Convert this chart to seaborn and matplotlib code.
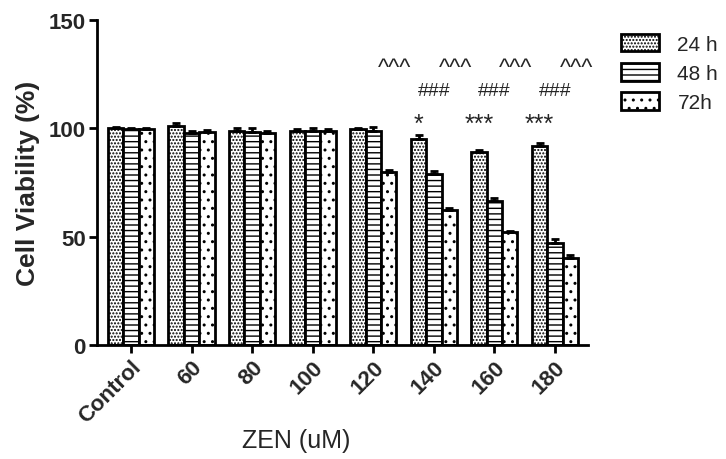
import numpy as np
import pandas as pd
import matplotlib
matplotlib.use('Agg')
import matplotlib.pyplot as plt
import seaborn as sns

doses = ['Control', '60', '80', '100', '120', '140', '160', '180']
times = ['24 h', '48 h', '72h']
v24 = [100, 101, 99, 99, 99.5, 95, 89, 92]
v48 = [99.5, 98, 98.5, 99, 99, 79, 66.5, 47]
v72 = [99.8, 98.5, 98, 99, 80, 62.5, 52, 40]
e24 = [0.8, 1.5, 1.0, 0.8, 0.8, 2.0, 0.8, 1.2]
e48 = [0.8, 0.8, 1.5, 1.0, 1.8, 1.5, 1.2, 2.0]
e72 = [0.6, 0.6, 0.6, 0.6, 1.0, 0.6, 0.6, 1.5]

# significance marks: (dose index, series index, text, y)
stars = [(5, 0, '*', 96.5), (6, 0, '***', 96.5), (7, 0, '***', 96.5)]
hashes = [(5, 1, '###', 113.5), (6, 1, '###', 113.5), (7, 1, '###', 113.5)]
carets = [(4, 2, '^^^', 123), (5, 2, '^^^', 123), (6, 2, '^^^', 123), (7, 2, '^^^', 123)]

df = pd.DataFrame({
    'dose': doses * 3,
    'time': [times[0]] * 8 + [times[1]] * 8 + [times[2]] * 8,
    'viability': v24 + v48 + v72,
})
errs = [e24, e48, e72]

sns.set_style('ticks')
plt.rcParams['font.family'] = ['Liberation Sans', 'DejaVu Sans']
plt.rcParams['hatch.linewidth'] = 1.0

fig = plt.figure(figsize=(7.26, 4.6), dpi=100)
ax = fig.add_axes([0.1336, 0.248, 0.676, 0.706])

sns.barplot(data=df, x='dose', y='viability', hue='time', order=doses,
            hue_order=times, palette=['white'] * 3, saturation=1,
            edgecolor='black', linewidth=2, width=0.76, errorbar=None, ax=ax)

bar_groups = list(ax.containers)
hatches = ['.....', '---', '..']
for cont, h, err in zip(bar_groups, hatches, errs):
    xs = []
    ys = []
    for bar in cont:
        bar.set_hatch(h)
        bar.set_facecolor('white')
        xs.append(bar.get_x() + bar.get_width() / 2)
        ys.append(bar.get_height())
    ax.errorbar(xs, ys, yerr=[np.zeros(len(err)), err], fmt='none',
                ecolor='black', elinewidth=2, capsize=3, capthick=2, zorder=3)

sizes = {'*': 18, '***': 18, '###': 14, '^^^': 17}
shift = {'*': 0, '***': 0, '###': 0, '^^^': 0.1}
for marks in (stars, hashes, carets):
    for i, s, txt, y in marks:
        bar = bar_groups[s][i]
        ax.text(bar.get_x() + bar.get_width() / 2 + shift[txt], y, txt,
                ha='center', va='bottom', fontsize=sizes[txt])

ax.set_xlim(-0.56, 7.54)
ax.set_ylim(0, 150)
ax.set_yticks([0, 50, 100, 150])
ax.set_xticks(range(len(doses)))
ax.set_xticklabels(doses, rotation=45, ha='right', rotation_mode='anchor',
                   fontsize=16, fontweight='bold')
for lab in ax.get_yticklabels():
    lab.set_fontsize(16)
    lab.set_fontweight('bold')
ax.set_ylabel('Cell Viability (%)', fontsize=19, fontweight='bold', labelpad=6)
ax.set_xlabel('ZEN (uM)', fontsize=18, labelpad=2)
ax.xaxis.set_label_coords(0.405, -0.255)
ax.tick_params(width=2, length=6, color='black', pad=2)
for side in ('left', 'bottom'):
    ax.spines[side].set_linewidth(2)
    ax.spines[side].set_color('black')
sns.despine(ax=ax)

handles = [c.patches[0] for c in bar_groups]
ax.legend(handles, times, frameon=False, loc='upper left',
          bbox_to_anchor=(1.03, 1.015), fontsize=15, handlelength=1.8,
          handleheight=0.9, labelspacing=0.45, handletextpad=0.9)

fig.savefig('out.png', dpi=100)
